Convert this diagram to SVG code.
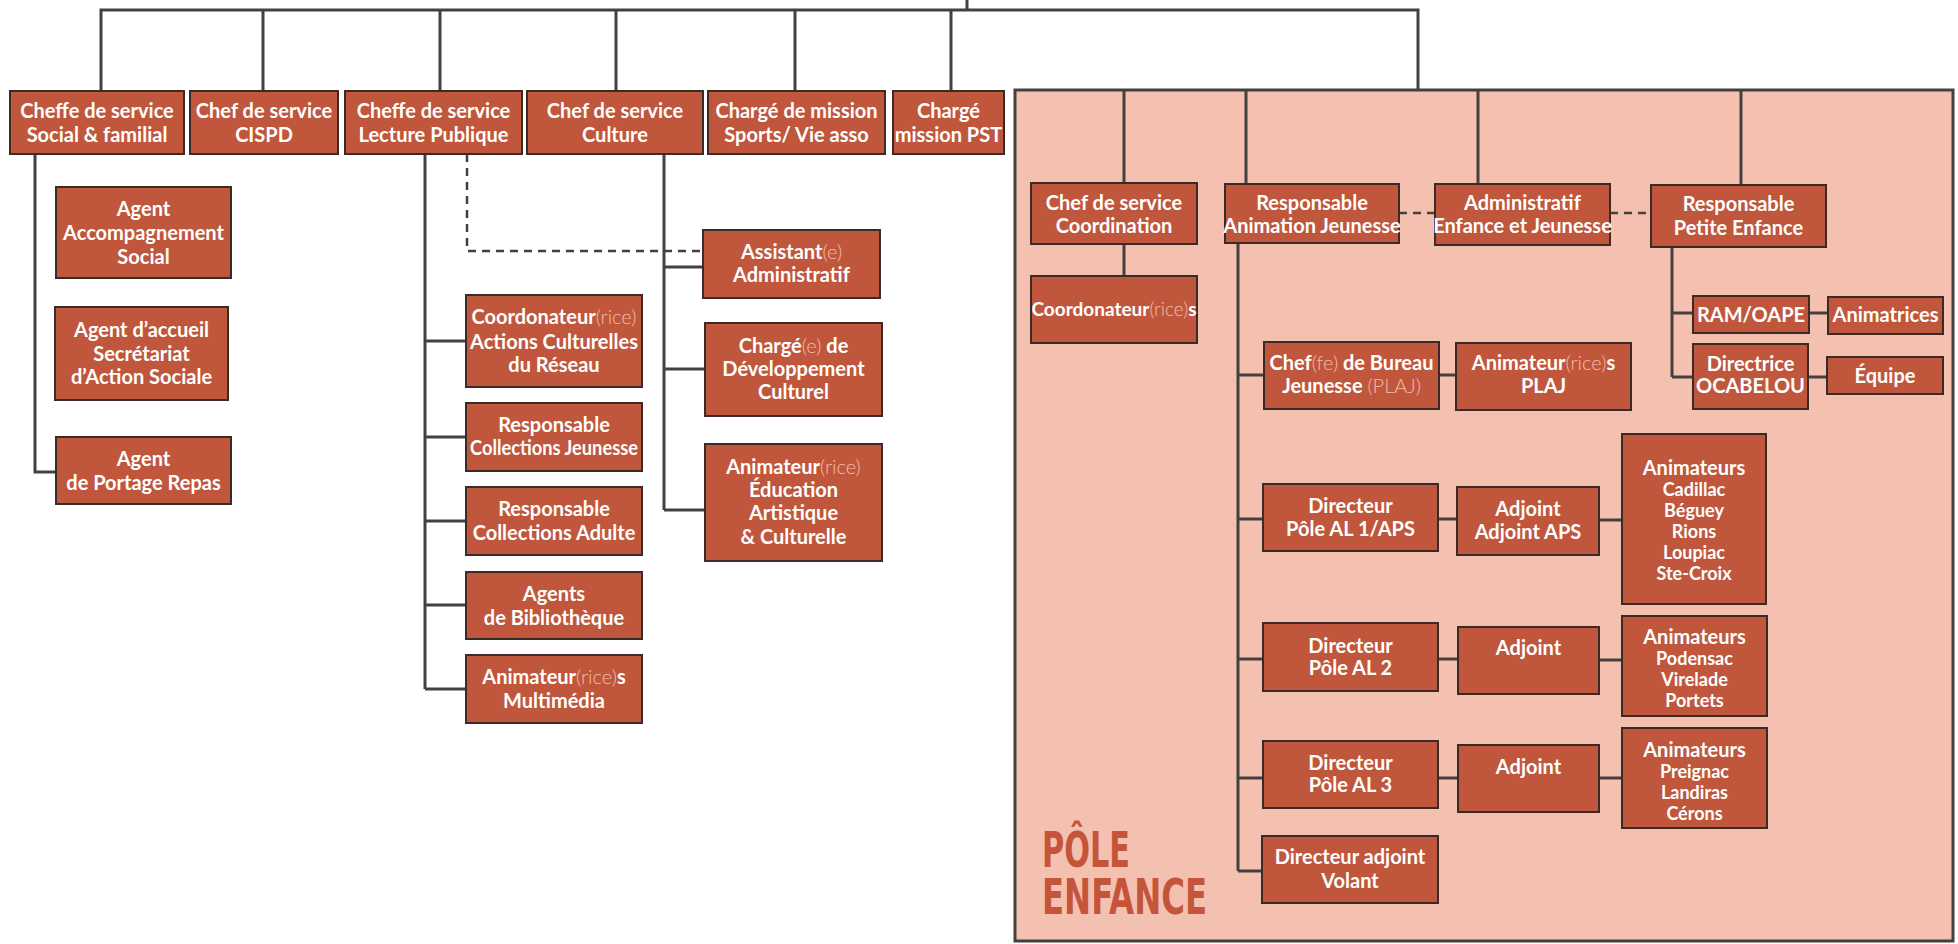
<svg xmlns="http://www.w3.org/2000/svg" width="1958" height="944" viewBox="0 0 1958 944">
<style>
.bx{fill:#c0573c;stroke:#3b2a25;stroke-width:2}
.t{font-family:Lato,"Liberation Sans",sans-serif;font-weight:700;font-size:20px;fill:#ffffff;text-anchor:middle}
.s{font-size:18px}
.l{font-weight:300;fill:#f4bba8}
.c{fill:none;stroke:#454040;stroke-width:3}
.d{fill:none;stroke:#454040;stroke-width:2.5;stroke-dasharray:8 6}
.pole{font-family:"Liberation Sans Narrow","DejaVu Sans Condensed","Liberation Sans",sans-serif;font-weight:700;font-size:50px;fill:#c4553a}
</style>
<rect width="1958" height="944" fill="#ffffff"/>
<g id="pole-enfance-zone">
<rect x="1015" y="90" width="938" height="851" fill="#f4c0af" stroke="#454040" stroke-width="3"/>
<text class="pole"><tspan x="1042" y="867" textLength="88" lengthAdjust="spacingAndGlyphs">PÔLE</tspan><tspan x="1042" y="914" textLength="165" lengthAdjust="spacingAndGlyphs">ENFANCE</tspan></text>
</g>
<g id="connectors">
<path class="c" d="M967 0V10M101 91V10H1418V90M263 10V91M440 10V91M616 10V91M795 10V91M951 10V91"/>
<path class="c" d="M35 154V472H56"/>
<path class="c" d="M425 154V689M425 341H466M425 437H466M425 521H466M425 605H466M425 689H466"/>
<path class="d" d="M467 154V251H703"/>
<path class="c" d="M664 154V510M664 267H703M664 369H705M664 510H705"/>
<path class="c" d="M1124 90V183M1246 90V184M1478 90V184M1741 90V185M1124 244V276"/>
<path class="c" d="M1238 243V871M1238 375H1264M1238 519H1263M1238 659H1263M1238 778H1263M1238 871H1262M1439 375H1456"/>
<path class="c" d="M1438 519H1457M1599 520H1622M1438 659H1458M1599 660H1622M1438 778H1458M1599 778H1622"/>
<path class="d" d="M1399 213H1435M1610 213H1651"/>
<path class="c" d="M1672 247V377M1672 313H1693M1672 377H1693M1809 313H1828M1808 377H1827"/>
</g>
<g id="n-social"><rect class="bx" x="10" y="91" width="174" height="63"/><text class="t" x="97" y="118">Cheffe de service</text><text class="t" x="97" y="142">Social &amp; familial</text></g>
<g id="n-cispd"><rect class="bx" x="190" y="91" width="148" height="63"/><text class="t" x="264" y="118">Chef de service</text><text class="t" x="264" y="142">CISPD</text></g>
<g id="n-lecture"><rect class="bx" x="345" y="91" width="177" height="63"/><text class="t" x="433.5" y="118">Cheffe de service</text><text class="t" x="433.5" y="142">Lecture Publique</text></g>
<g id="n-culture"><rect class="bx" x="527" y="91" width="176" height="63"/><text class="t" x="615" y="118">Chef de service</text><text class="t" x="615" y="142">Culture</text></g>
<g id="n-sports"><rect class="bx" x="708" y="91" width="177" height="63"/><text class="t" x="796.5" y="118">Chargé de mission</text><text class="t" x="796.5" y="142">Sports/ Vie asso</text></g>
<g id="n-pst"><rect class="bx" x="893" y="91" width="111" height="63"/><text class="t" x="948.5" y="118">Chargé</text><text class="t" x="948.5" y="142">mission PST</text></g>
<g id="n-agent-accomp"><rect class="bx" x="56" y="187" width="175" height="91"/><text class="t" x="143.5" y="216">Agent</text><text class="t" x="143.5" y="240">Accompagnement</text><text class="t" x="143.5" y="264">Social</text></g>
<g id="n-agent-accueil"><rect class="bx" x="55" y="307" width="173" height="93"/><text class="t" x="141.5" y="337">Agent d’accueil</text><text class="t" x="141.5" y="361">Secrétariat</text><text class="t" x="141.5" y="384">d’Action Sociale</text></g>
<g id="n-portage"><rect class="bx" x="56" y="437" width="175" height="67"/><text class="t" x="143.5" y="466">Agent</text><text class="t" x="143.5" y="490">de Portage Repas</text></g>
<g id="n-coord-actions"><rect class="bx" x="466" y="295" width="176" height="92"/><text class="t" x="554" y="324">Coordonateur<tspan class="l">(rice)</tspan></text><text class="t" x="554" y="349">Actions Culturelles</text><text class="t" x="554" y="372">du Réseau</text></g>
<g id="n-coll-jeunesse"><rect class="bx" x="466" y="403" width="176" height="68"/><text class="t" x="554" y="432">Responsable</text><text class="t" x="554" y="455" textLength="168" lengthAdjust="spacingAndGlyphs">Collections Jeunesse</text></g>
<g id="n-coll-adulte"><rect class="bx" x="466" y="487" width="176" height="68"/><text class="t" x="554" y="516">Responsable</text><text class="t" x="554" y="540">Collections Adulte</text></g>
<g id="n-agents-biblio"><rect class="bx" x="466" y="572" width="176" height="67"/><text class="t" x="554" y="601">Agents</text><text class="t" x="554" y="625">de Bibliothèque</text></g>
<g id="n-multimedia"><rect class="bx" x="466" y="655" width="176" height="68"/><text class="t" x="554" y="684">Animateur<tspan class="l">(rice)</tspan>s</text><text class="t" x="554" y="708">Multimédia</text></g>
<g id="n-assistant"><rect class="bx" x="703" y="230" width="177" height="68"/><text class="t" x="791.5" y="259">Assistant<tspan class="l">(e)</tspan></text><text class="t" x="791.5" y="282">Administratif</text></g>
<g id="n-dev-culturel"><rect class="bx" x="705" y="323" width="177" height="93"/><text class="t" x="793.5" y="353">Chargé<tspan class="l">(e)</tspan> de</text><text class="t" x="793.5" y="376">Développement</text><text class="t" x="793.5" y="399">Culturel</text></g>
<g id="n-eac"><rect class="bx" x="705" y="444" width="177" height="117"/><text class="t" x="793.5" y="474">Animateur<tspan class="l">(rice)</tspan></text><text class="t" x="793.5" y="497">Éducation</text><text class="t" x="793.5" y="520">Artistique</text><text class="t" x="793.5" y="544">&amp; Culturelle</text></g>
<g id="n-coordination"><rect class="bx" x="1031" y="183" width="166" height="61"/><text class="t" x="1114" y="210">Chef de service</text><text class="t" x="1114" y="233">Coordination</text></g>
<g id="n-coordonateurs"><rect class="bx" x="1031" y="276" width="166" height="67"/><text class="t" x="1114" y="316" style="font-size:19px">Coordonateur<tspan class="l">(rice)</tspan>s</text></g>
<g id="n-anim-jeunesse"><rect class="bx" x="1225" y="184" width="174" height="59"/><text class="t" x="1312" y="210">Responsable</text><text class="t" x="1312" y="233">Animation Jeunesse</text></g>
<g id="n-administratif"><rect class="bx" x="1435" y="184" width="175" height="61"/><text class="t" x="1522.5" y="210">Administratif</text><text class="t" x="1522.5" y="233">Enfance et Jeunesse</text></g>
<g id="n-petite-enfance"><rect class="bx" x="1651" y="185" width="175" height="62"/><text class="t" x="1738.5" y="211">Responsable</text><text class="t" x="1738.5" y="235">Petite Enfance</text></g>
<g id="n-plaj"><rect class="bx" x="1264" y="342" width="175" height="67"/><text class="t" x="1351.5" y="370">Chef<tspan class="l">(fe)</tspan> de Bureau</text><text class="t" x="1351.5" y="393">Jeunesse <tspan class="l">(PLAJ)</tspan></text></g>
<g id="n-anim-plaj"><rect class="bx" x="1456" y="343" width="175" height="67"/><text class="t" x="1543.5" y="370">Animateur<tspan class="l">(rice)</tspan>s</text><text class="t" x="1543.5" y="393">PLAJ</text></g>
<g id="n-ram"><rect class="bx" x="1693" y="296" width="116" height="37"/><text class="t" x="1751" y="322">RAM/OAPE</text></g>
<g id="n-animatrices"><rect class="bx" x="1828" y="297" width="115" height="37"/><text class="t" x="1885.5" y="322">Animatrices</text></g>
<g id="n-ocabelou"><rect class="bx" x="1693" y="344" width="115" height="65"/><text class="t" x="1750.5" y="371">Directrice</text><text class="t" x="1750.5" y="393">OCABELOU</text></g>
<g id="n-equipe"><rect class="bx" x="1827" y="357" width="116" height="37"/><text class="t" x="1885" y="383">Équipe</text></g>
<g id="n-al1"><rect class="bx" x="1263" y="484" width="175" height="67"/><text class="t" x="1350.5" y="513">Directeur</text><text class="t" x="1350.5" y="536">Pôle AL 1/APS</text></g>
<g id="n-adj1"><rect class="bx" x="1457" y="487" width="142" height="68"/><text class="t" x="1528" y="516">Adjoint</text><text class="t" x="1528" y="539">Adjoint APS</text></g>
<g id="n-anim1"><rect class="bx" x="1622" y="434" width="144" height="170"/><text class="t" x="1694" y="475">Animateurs</text><text class="t s" x="1694" y="496">Cadillac</text><text class="t s" x="1694" y="517">Béguey</text><text class="t s" x="1694" y="538">Rions</text><text class="t s" x="1694" y="559">Loupiac</text><text class="t s" x="1694" y="580">Ste-Croix</text></g>
<g id="n-al2"><rect class="bx" x="1263" y="623" width="175" height="68"/><text class="t" x="1350.5" y="653">Directeur</text><text class="t" x="1350.5" y="675">Pôle AL 2</text></g>
<g id="n-adj2"><rect class="bx" x="1458" y="627" width="141" height="67"/><text class="t" x="1528.5" y="655">Adjoint</text></g>
<g id="n-anim2"><rect class="bx" x="1622" y="616" width="145" height="100"/><text class="t" x="1694.5" y="644">Animateurs</text><text class="t s" x="1694.5" y="665">Podensac</text><text class="t s" x="1694.5" y="686">Virelade</text><text class="t s" x="1694.5" y="707">Portets</text></g>
<g id="n-al3"><rect class="bx" x="1263" y="741" width="175" height="67"/><text class="t" x="1350.5" y="770">Directeur</text><text class="t" x="1350.5" y="792">Pôle AL 3</text></g>
<g id="n-adj3"><rect class="bx" x="1458" y="745" width="141" height="67"/><text class="t" x="1528.5" y="774">Adjoint</text></g>
<g id="n-anim3"><rect class="bx" x="1622" y="728" width="145" height="100"/><text class="t" x="1694.5" y="757">Animateurs</text><text class="t s" x="1694.5" y="778">Preignac</text><text class="t s" x="1694.5" y="799">Landiras</text><text class="t s" x="1694.5" y="820">Cérons</text></g>
<g id="n-volant"><rect class="bx" x="1262" y="836" width="176" height="67"/><text class="t" x="1350" y="864">Directeur adjoint</text><text class="t" x="1350" y="888">Volant</text></g>
</svg>
